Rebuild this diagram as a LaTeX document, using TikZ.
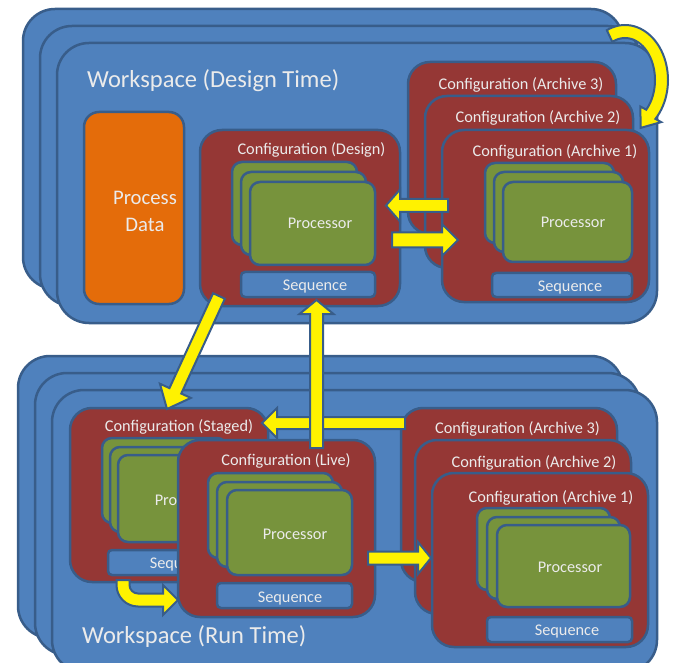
\documentclass[tikz,border=0pt]{standalone}
\usepackage{fontspec}
\setmainfont{Carlito}
\usetikzlibrary{calc}
\definecolor{wsblue}{HTML}{4F81BD}
\definecolor{edge}{HTML}{385D8A}
\definecolor{cfgred}{HTML}{953735}
\definecolor{procgreen}{HTML}{77933C}
\definecolor{pdorange}{HTML}{E46C0A}
\definecolor{txt}{HTML}{EBEBEB}
\tikzset{
  basebox/.style={draw=edge, line width=2.5pt, outer sep=0pt, inner sep=0pt},
  wsbox/.style={basebox, fill=wsblue, rounded corners=32pt},
  cfgbox/.style={basebox, fill=cfgred, rounded corners=22pt},
  procbox/.style={basebox, fill=procgreen, rounded corners=10pt},
  seqbox/.style={basebox, fill=wsblue, rounded corners=4pt},
  databox/.style={basebox, fill=pdorange, rounded corners=15pt},
  txtsmall/.style={text=txt, inner sep=0pt, font=\fontsize{16.3}{18}\selectfont, text height=10.5pt, text depth=0pt},
  txtmid/.style={text=txt, inner sep=0pt, font=\fontsize{20.7}{24}\selectfont, text height=13.3pt, text depth=0pt},
  txtbig/.style={text=txt, inner sep=0pt, font=\fontsize{24.5}{28}\selectfont, anchor=base west},
  yarrow/.style={fill=yellow, draw=edge, line width=2pt, line join=miter},
}
\newcommand\rbox[6]{\node[#2, minimum width={#5-#3}, minimum height={#6-#4}] (#1) at ({(#3+#5)/2},{(#4+#6)/2}) {};}
\newcommand\blockarrow[5]{%
  \coordinate (ab) at ($(#2)!#5!(#1)$);
  \path[yarrow] ($(#1)!#3!90:(#2)$) -- ($(ab)!#3!90:(#2)$) -- ($(ab)!#4!90:(#2)$) -- (#2)
     -- ($(ab)!#4!-90:(#2)$) -- ($(ab)!#3!-90:(#2)$) -- ($(#1)!#3!-90:(#2)$) -- cycle;}
\begin{document}
\begin{tikzpicture}[x=1pt,y=-1pt]
\useasboundingbox (0,0) rectangle (675,663);
% ---------- Design time workspace ----------
\rbox{wsA3}{wsbox}{23}{9}{623}{289}
\rbox{wsA2}{wsbox}{40}{26}{640}{306}
\rbox{wsA}{wsbox}{57}{43}{657}{323}
\node[txtbig] (wsAlbl) at (87,88) {Workspace (Design Time)};
\rbox{pd}{databox}{84}{112}{184}{304}
\node[txtmid] (pdl1) at (145,197.4) {Process};
\node[txtmid] (pdl2) at (145,225) {Data};
% design configuration
\rbox{design}{cfgbox}{200}{130}{400}{306}
\node[txtsmall] (designlbl) at (311.5,149) {Configuration (Design)};
\rbox{dp3}{procbox}{232}{162}{357}{245}
\rbox{dp2}{procbox}{241}{172}{366}{255}
\rbox{dp1}{procbox}{250}{182}{375}{265}
\node[txtsmall] (dptxt) at (320,223) {Processor};
\rbox{dseq}{seqbox}{241}{272}{375}{297}
\node[txtsmall] (dseqtxt) at (315,285.7) {Sequence};
% archives (design time)
\rbox{tar3}{cfgbox}{408}{62}{616}{234}
\node[txtsmall] (tar3lbl) at (521,84) {Configuration (Archive 3)};
\rbox{tar2}{cfgbox}{425}{96}{633}{268}
\node[txtsmall] (tar2lbl) at (538,117.5) {Configuration (Archive 2)};
\rbox{tar1}{cfgbox}{442}{130}{649}{302}
\node[txtsmall] (tar1lbl) at (555,151) {Configuration (Archive 1)};
\rbox{tp3}{procbox}{485}{163}{614}{243}
\rbox{tp2}{procbox}{494}{172}{623}{252}
\rbox{tp1}{procbox}{503}{182}{632}{262}
\node[txtsmall] (tptxt) at (573,222.5) {Processor};
\rbox{tseq}{seqbox}{492}{273}{632}{297}
\node[txtsmall] (tseqtxt) at (570,286) {Sequence};
% ---------- Run time workspace ----------
\rbox{wsB3}{wsbox}{18}{356}{623}{638}
\rbox{wsB2}{wsbox}{35}{373}{640}{655}
\rbox{wsB}{wsbox}{52}{390}{657}{672}
\node[txtbig] (wsBlbl) at (82,643) {Workspace (Run Time)};
% staged
\rbox{staged}{cfgbox}{70}{408}{268}{582}
\node[txtsmall] (stagedlbl) at (179,426.7) {Configuration (Staged)};
\rbox{sp3}{procbox}{102}{438}{227}{523}
\rbox{sp2}{procbox}{110}{447}{235}{532}
\rbox{sp1}{procbox}{118}{455}{245}{542}
\node[txtsmall] (sptxt) at (187,500) {Processor};
\rbox{sseq}{seqbox}{108}{550}{243}{575}
\node[txtsmall] (sseqtxt) at (182,563.3) {Sequence};
% live
\rbox{live}{cfgbox}{178}{440}{375}{617}
\node[txtsmall] (livelbl) at (286,460.5) {Configuration (Live)};
\rbox{lp3}{procbox}{208}{473}{333}{558}
\rbox{lp2}{procbox}{217}{482}{342}{567}
\rbox{lp1}{procbox}{227}{490}{352}{575}
\node[txtsmall] (lptxt) at (295,534.3) {Processor};
\rbox{lseq}{seqbox}{217}{583}{352}{608}
\node[txtsmall] (lseqtxt) at (290,597.3) {Sequence};
% archives (run time)
\rbox{bar3}{cfgbox}{401}{408}{617}{582}
\node[txtsmall] (bar3lbl) at (517.5,428.7) {Configuration (Archive 3)};
\rbox{bar2}{cfgbox}{415}{440}{631}{614}
\node[txtsmall] (bar2lbl) at (534,462) {Configuration (Archive 2)};
\rbox{bar1}{cfgbox}{432}{473}{648}{647}
\node[txtsmall] (bar1lbl) at (551,497) {Configuration (Archive 1)};
\rbox{bp3}{procbox}{477}{508}{610}{590}
\rbox{bp2}{procbox}{487}{517}{620}{599}
\rbox{bp1}{procbox}{497}{525}{630}{607}
\node[txtsmall] (bptxt) at (570,567) {Processor};
\rbox{bseq}{seqbox}{487}{617}{632}{642}
\node[txtsmall] (bseqtxt) at (567,630.5) {Sequence};
% ---------- arrows ----------
\coordinate (a1s) at (448,205.5); \coordinate (a1e) at (386,205.5);
\blockarrow{a1s}{a1e}{6.5pt}{16pt}{14pt}
\coordinate (a2s) at (392,240); \coordinate (a2e) at (458,240);
\blockarrow{a2s}{a2e}{7.5pt}{16pt}{16pt}
% curved archive rotation arrow
\coordinate (cwA) at (661.2,122.1); \coordinate (cwT) at (640.6,127.9); \coordinate (cwB) at (640.4,106.5);
\path[yarrow] plot[domain=-115:45, samples=40, variable=\t] ({625+43*cos(\t)},{80+55*sin(\t)})
   -- (cwA) -- (cwT) -- (cwB)
   -- plot[domain=45:-115, samples=40, variable=\t] ({625+30*cos(\t)},{80+42*sin(\t)}) -- cycle;
\coordinate (a3s) at (219,296); \coordinate (a3e) at (167,409);
\blockarrow{a3s}{a3e}{6.5pt}{17pt}{20pt}
\coordinate (a5s) at (405,423); \coordinate (a5e) at (262,423);
\blockarrow{a5s}{a5e}{6pt}{15pt}{15pt}
\coordinate (a4s) at (316.5,448); \coordinate (a4e) at (316.5,300);
\blockarrow{a4s}{a4e}{6.5pt}{17pt}{14pt}
\coordinate (a6s) at (368,558); \coordinate (a6e) at (431,558);
\blockarrow{a6s}{a6e}{6.5pt}{16pt}{13pt}
% staged -> live bent arrow
\path[yarrow] (116.5,580) -- (116.5,585) .. controls (116.5,596.9) and (126.1,606.5) .. (138,606.5)
   -- (163,606.5) -- (163,615) -- (178,600) -- (163,585) -- (163,593.5) -- (138,593.5)
   .. controls (133.3,593.5) and (129.5,589.7) .. (129.5,585) -- (129.5,580) -- cycle;
\end{tikzpicture}
\end{document}
